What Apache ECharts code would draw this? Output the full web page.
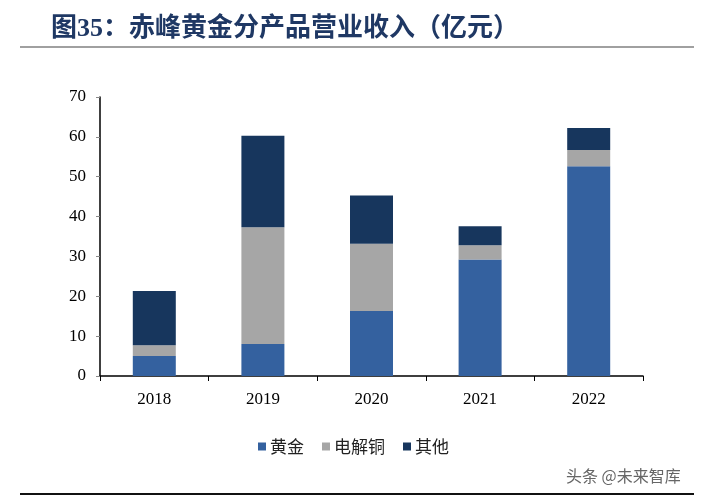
<!DOCTYPE html>
<html><head><meta charset="utf-8">
<script src="https://cdn.jsdelivr.net/npm/echarts@6/dist/echarts.min.js"></script>
<style>html,body{margin:0;padding:0;background:#fff}#c{width:707px;height:500px}</style>
</head><body><div id="c"></div>
<script>
const years = ['2018','2019','2020','2021','2022'];
const gold = [5.0, 8.0, 16.3, 29.2, 52.6];
const copper = [2.7, 29.3, 16.9, 3.6, 4.1];
const other = [13.6, 23.0, 12.1, 4.8, 5.5];
const seriesNames = ['黄金','电解铜','其他'];
const colors = ['#34619F','#A6A6A6','#17365D'];

const chart = echarts.init(document.getElementById('c'));
const serif = '"Liberation Serif","Noto Sans CJK SC",serif';
chart.setOption({
  animation:false,
  backgroundColor:'#fff',
  title:{
    text:'图35：赤峰黄金分产品营业收入（亿元）',
    left:46, top:11,
    textStyle:{fontFamily:'"Liberation Serif","Noto Sans CJK SC",serif',fontSize:26,fontWeight:'bold',color:'#1F3864'}
  },
  legend:{
    data:seriesNames,
    left:'center', top:433,
    itemWidth:8, itemHeight:8, itemGap:18,
    textStyle:{fontFamily:'"Noto Sans CJK SC",sans-serif',fontSize:17,color:'#222',padding:[0,0,0,-1]},
    icon:'rect'
  },
  grid:{left:100,right:64,top:97,bottom:124},
  xAxis:{
    type:'category', data:years,
    axisLine:{lineStyle:{color:'#000',width:1.5}},
    axisTick:{show:true,alignWithLabel:false,length:5,lineStyle:{color:'#000'}},
    axisLabel:{fontFamily:serif,fontSize:17,color:'#000',margin:15}
  },
  yAxis:{
    type:'value', min:0, max:70, interval:10,
    splitLine:{show:false},
    axisLine:{show:true,lineStyle:{color:'#000',width:1.5}},
    axisTick:{show:true,length:4,lineStyle:{color:'#888'}},
    axisLabel:{fontFamily:serif,fontSize:17,color:'#000',margin:14}
  },
  series:[
    {name:seriesNames[0],type:'bar',stack:'s',data:gold,barWidth:43,itemStyle:{color:colors[0]}},
    {name:seriesNames[1],type:'bar',stack:'s',data:copper,barWidth:43,itemStyle:{color:colors[1]}},
    {name:seriesNames[2],type:'bar',stack:'s',data:other,barWidth:43,itemStyle:{color:colors[2]}}
  ],
  graphic:[
    {type:'rect',shape:{x:20,y:46,width:674,height:2},style:{fill:'#A0A0A0'}},
    {type:'rect',shape:{x:20,y:493,width:674,height:2},style:{fill:'#111'}},
    {type:'text',left:566,top:468,style:{text:'头条 @未来智库',font:'16px "Noto Sans CJK SC",sans-serif',fill:'#666'}}
  ]
});
</script></body></html>
